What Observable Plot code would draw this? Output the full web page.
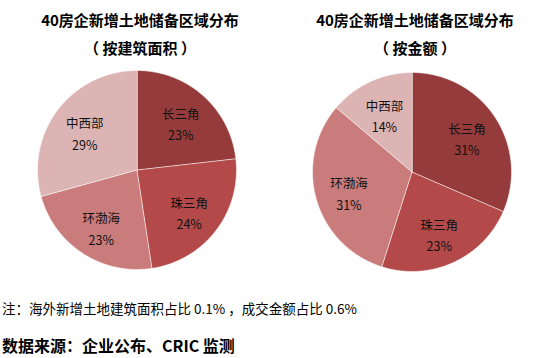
<!DOCTYPE html>
<html>
<head>
<meta charset="utf-8">
<script src="https://cdn.jsdelivr.net/npm/d3@7"></script>
<script src="https://cdn.jsdelivr.net/npm/@observablehq/plot@0.6"></script>
<style>
  html, body { margin: 0; padding: 0; background: #fff; }
  body { width: 542px; height: 358px; position: relative; overflow: hidden;
         font-family: "Noto Sans CJK SC", "Noto Sans", sans-serif; color: #000; }
  .title { position: absolute; width: 260px; text-align: center; font-weight: bold;
           font-size: 15px; line-height: 28px; }
  .chart { position: absolute; }
  .note { position: absolute; left: 2px; top: 298px; font-size: 13.5px; white-space: nowrap; }
  .source { position: absolute; left: 2px; top: 333px; font-size: 16px; font-weight: bold; white-space: nowrap; }
</style>
</head>
<body>
<div class="title" style="left:10px;top:6px">40房企新增土地储备区域分布<br>（ 按建筑面积 ）</div>
<div class="title" style="left:285px;top:6px">40房企新增土地储备区域分布<br>（ 按金额 ）</div>
<div id="left" class="chart" style="left:32px;top:64.5px"></div>
<div id="right" class="chart" style="left:307px;top:67px"></div>
<div class="note">注：海外新增土地建筑面积占比 0.1% ，成交金额占比 0.6%</div>
<div class="source">数据来源：企业公布、CRIC 监测</div>
<script>
const regions = ["长三角", "珠三角", "环渤海", "中西部"];
const colors = ["#953B3B", "#B34A49", "#C97C7B", "#DDB4B4"];
const areaValues = [23.2, 24.4, 23.1, 29.3];
const areaLabels = ["23%", "24%", "23%", "29%"];
const amountValues = [31.5, 23.4, 31.3, 13.8];
const amountLabels = ["31%", "23%", "31%", "14%"];

function pie(values, labels) {
  const arcs = d3.pie().sort(null).value(d => d)(values);
  const pts = [];
  const lab = [];
  arcs.forEach((a, i) => {
    const name = regions[i];
    pts.push({name, x: 0, y: 0});
    const n = Math.max(2, Math.ceil((a.endAngle - a.startAngle) / (Math.PI / 360)));
    for (let k = 0; k <= n; k++) {
      const t = a.startAngle + (a.endAngle - a.startAngle) * k / n;
      pts.push({name, x: Math.sin(t), y: Math.cos(t)});
    }
    const m = (a.startAngle + a.endAngle) / 2;
    lab.push({name, text: name + "\n" + labels[i], x: 0.66 * Math.sin(m), y: 0.66 * Math.cos(m)});
  });
  return Plot.plot({
    width: 209, height: 209, margin: 5,
    x: {domain: [-1, 1], axis: null},
    y: {domain: [-1, 1], axis: null},
    color: {domain: regions, range: colors},
    style: {fontFamily: "'Noto Sans CJK SC', sans-serif", background: "transparent", overflow: "visible"},
    marks: [
      Plot.line(pts, {x: "x", y: "y", z: "name", fill: "name", stroke: "#fff",
                      strokeWidth: 0.8, strokeOpacity: 0.7, curve: "linear-closed"}),
      Plot.text(lab, {x: "x", y: "y", text: "text", fontSize: 12.5, lineHeight: 1.7, dy: 2, fill: "#111"})
    ]
  });
}
document.getElementById("left").append(pie(areaValues, areaLabels));
document.getElementById("right").append(pie(amountValues, amountLabels));
</script>
</body>
</html>
